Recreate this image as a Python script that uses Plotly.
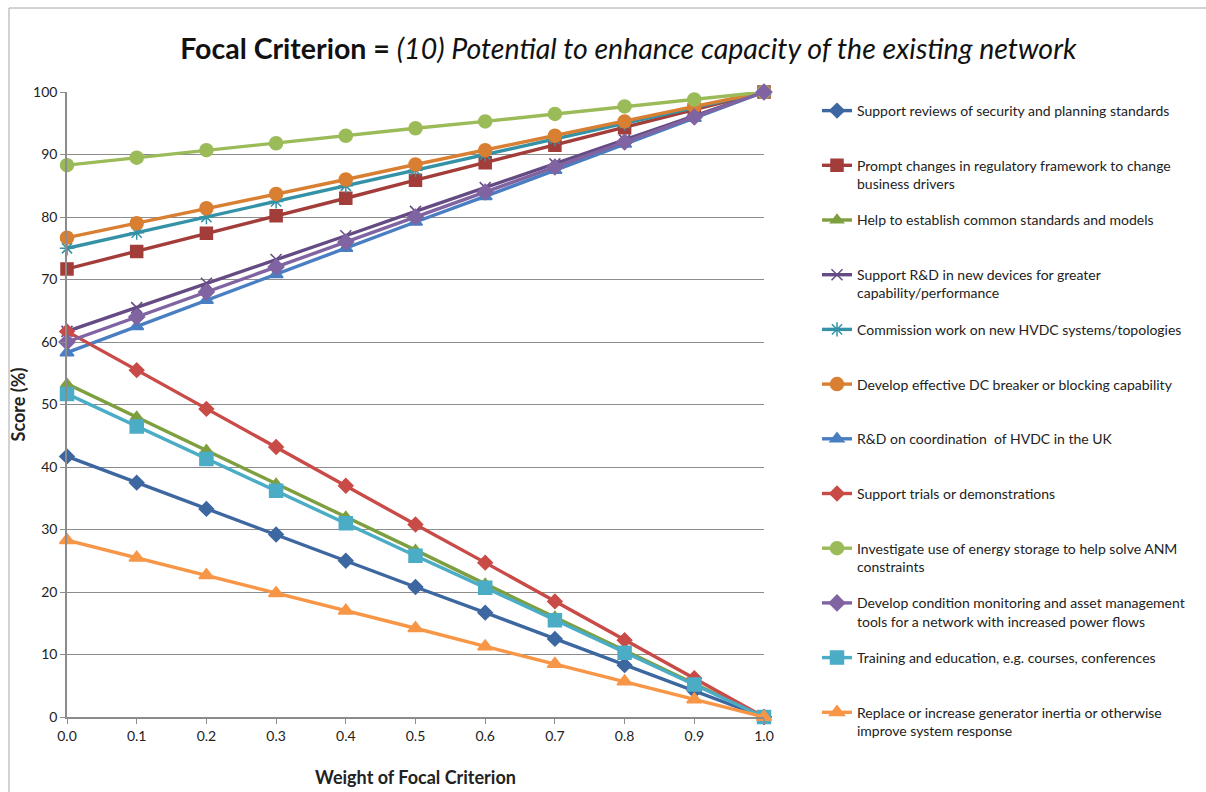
import plotly.graph_objects as go

# Weight of the focal criterion (x axis)
weights = [0.0, 0.1, 0.2, 0.3, 0.4, 0.5, 0.6, 0.7, 0.8, 0.9, 1.0]
tick_labels = ["0.0", "0.1", "0.2", "0.3", "0.4", "0.5", "0.6", "0.7", "0.8", "0.9", "1.0"]

# Series names (legend order)
names = [
    "Support reviews of security and planning standards",
    "Prompt changes in regulatory framework to change<br>business drivers",
    "Help to establish common standards and models",
    "Support R&D in new devices for greater<br>capability/performance",
    "Commission work on new HVDC systems/topologies",
    "Develop effective DC breaker or blocking capability",
    "R&D on coordination  of HVDC in the UK",
    "Support trials or demonstrations",
    "Investigate use of energy storage to help solve ANM<br>constraints",
    "Develop condition monitoring and asset management<br>tools for a network with increased power flows",
    "Training and education, e.g. courses, conferences",
    "Replace or increase generator inertia or otherwise<br>improve system response",
]

# Scores (%) for each option
security_reviews = [41.7, 37.5, 33.3, 29.2, 25.0, 20.8, 16.7, 12.5, 8.3, 4.2, 0.0]
regulatory_changes = [71.7, 74.5, 77.4, 80.2, 83.0, 85.9, 88.7, 91.5, 94.3, 97.2, 100.0]
common_standards = [53.3, 48.0, 42.7, 37.3, 32.0, 26.7, 21.3, 16.0, 10.7, 5.3, 0.0]
rd_new_devices = [61.7, 65.5, 69.4, 73.2, 77.0, 80.9, 84.7, 88.5, 92.3, 96.2, 100.0]
hvdc_topologies = [75.0, 77.5, 80.0, 82.5, 85.0, 87.5, 90.0, 92.5, 95.0, 97.5, 100.0]
dc_breaker = [76.7, 79.0, 81.4, 83.7, 86.0, 88.4, 90.7, 93.0, 95.3, 97.7, 100.0]
hvdc_coordination = [58.3, 62.5, 66.7, 70.8, 75.0, 79.2, 83.3, 87.5, 91.7, 95.8, 100.0]
trials = [61.7, 55.5, 49.3, 43.2, 37.0, 30.8, 24.7, 18.5, 12.3, 6.2, 0.0]
energy_storage = [88.3, 89.5, 90.7, 91.8, 93.0, 94.2, 95.3, 96.5, 97.7, 98.8, 100.0]
condition_monitoring = [60.0, 64.0, 68.0, 72.0, 76.0, 80.0, 84.0, 88.0, 92.0, 96.0, 100.0]
training = [51.7, 46.5, 41.3, 36.2, 31.0, 25.8, 20.7, 15.5, 10.3, 5.2, 0.0]
generator_inertia = [28.3, 25.5, 22.7, 19.8, 17.0, 14.2, 11.3, 8.5, 5.7, 2.8, 0.0]

series = [
    security_reviews, regulatory_changes, common_standards, rd_new_devices,
    hvdc_topologies, dc_breaker, hvdc_coordination, trials, energy_storage,
    condition_monitoring, training, generator_inertia,
]

colors = [
    "#3D67A0", "#A33D3A", "#7E9F3F", "#654B83", "#3592A6", "#D97F32",
    "#4A7EC2", "#C94B47", "#9BBB59", "#8064A2", "#4BACC6", "#F79646",
]
symbols = [
    "diamond", "square", "triangle-up", "x-thin-open", "asterisk-open", "circle",
    "triangle-up", "diamond", "circle", "diamond", "square", "triangle-up",
]
sizes = [11, 12, 11, 11, 12, 13, 12, 11, 13, 12, 13, 13]

FONT = "Lato, Calibri, 'Open Sans', sans-serif"

fig = go.Figure()
for i, (name, ys) in enumerate(zip(names, series)):
    label = name if "<br>" in name else name + "<br>&nbsp;"
    fig.add_trace(go.Scatter(
        x=weights, y=ys, name=label, mode="lines+markers",
        legendgroup=f"g{i}",
        line=dict(color=colors[i], width=3.4),
        marker=dict(symbol=symbols[i], size=sizes[i], color=colors[i],
                    line=dict(color=colors[i], width=1.5)),
        cliponaxis=False,
    ))

fig.update_layout(
    width=1206, height=792,
    margin=dict(l=67, r=442, t=92, b=75),
    paper_bgcolor="white", plot_bgcolor="white",
    font=dict(family=FONT, size=14, color="#222222"),
    title=dict(
        text="<b>Focal Criterion = </b><i>(10) Potential to enhance capacity of the existing network</i>",
        font=dict(family=FONT, size=28.5, color="#111111"),
        x=0.521, xref="container", xanchor="center",
        y=1 - 49 / 792, yref="container", yanchor="middle",
    ),
    legend=dict(
        x=817 / 1206, xref="container", xanchor="left",
        y=1 - 95 / 792, yref="container", yanchor="top",
        valign="top", tracegroupgap=15.3, maxheight=780,
        font=dict(family=FONT, size=14, color="#222222"),
        bgcolor="rgba(0,0,0,0)",
    ),
    xaxis=dict(
        range=[0, 1], tickmode="array", tickvals=weights, ticktext=tick_labels,
        showgrid=False, zeroline=False, showline=True, linecolor="#8C8C8C", linewidth=1.5,
        ticks="outside", ticklen=5, tickcolor="#8C8C8C", automargin=False,
        title=dict(text="<b>Weight of Focal Criterion</b>", font=dict(size=18), standoff=29),
        tickfont=dict(size=14),
    ),
    yaxis=dict(
        range=[0, 100], dtick=10, showgrid=True, gridcolor="#8C8C8C", gridwidth=1,
        zeroline=False, showline=True, linecolor="#8C8C8C", linewidth=1.5,
        ticks="outside", ticklen=5, tickcolor="#8C8C8C", automargin=False,
        title=dict(text="<b>Score (%)</b>", font=dict(size=18), standoff=3),
        tickfont=dict(size=14),
    ),
    shapes=[dict(
        type="rect", xref="paper", yref="paper",
        x0=(9 - 67) / 697, x1=(1215 - 67) / 697,
        y0=(717 - 800) / 625, y1=(717 - 8) / 625,
        line=dict(color="#A6A6A6", width=1), layer="below",
    )],
)

fig.write_html("out.html")
